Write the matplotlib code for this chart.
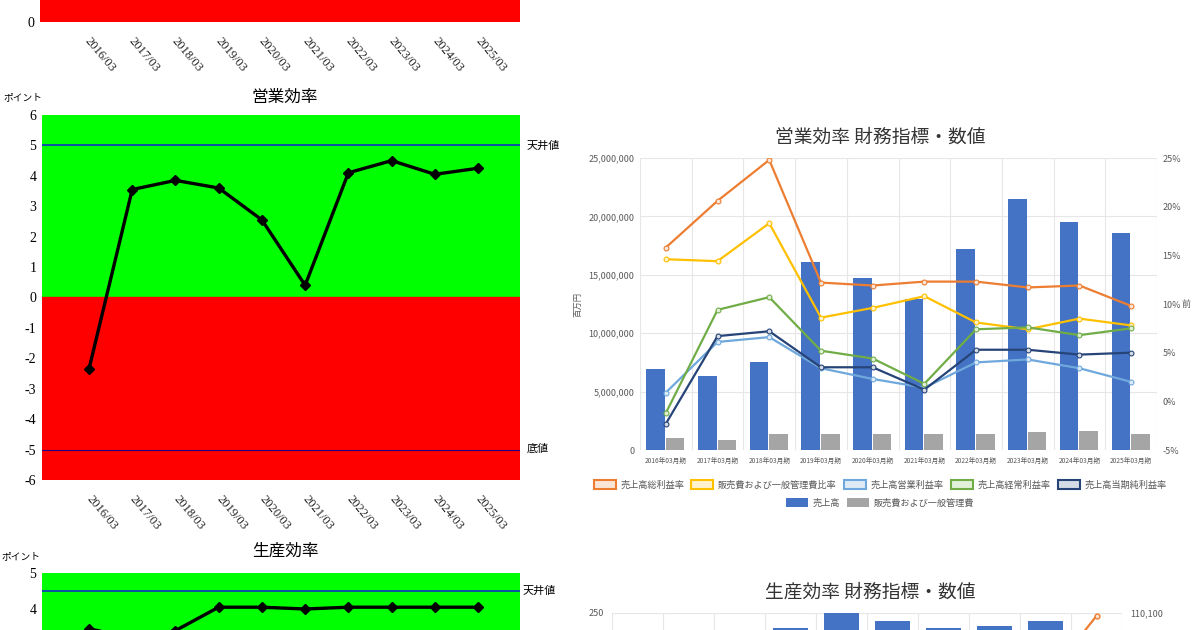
import numpy as np
import matplotlib.pyplot as plt
from matplotlib.patches import Patch
from matplotlib.ticker import FuncFormatter

plt.rcParams['font.family'] = ['Noto Sans CJK JP', 'DejaVu Sans']

# data
years = ['2016/03', '2017/03', '2018/03', '2019/03', '2020/03',
         '2021/03', '2022/03', '2023/03', '2024/03', '2025/03']
periods = ['2016年03月期', '2017年03月期', '2018年03月期', '2019年03月期', '2020年03月期',
           '2021年03月期', '2022年03月期', '2023年03月期', '2024年03月期', '2025年03月期']
eigyo_pt = [-2.35, 3.55, 3.85, 3.6, 2.55, 0.4, 4.1, 4.5, 4.05, 4.25]
seisan_pt = [3.45, 3.2, 3.4, 4.05, 4.05, 4.0, 4.05, 4.05, 4.05, 4.05]

uriage = [6.9e6, 6.3e6, 7.5e6, 16.1e6, 14.7e6, 12.9e6, 17.2e6, 21.5e6, 19.5e6, 18.6e6]
hankan = [1.0e6, 0.85e6, 1.35e6, 1.35e6, 1.4e6, 1.35e6, 1.4e6, 1.55e6, 1.65e6, 1.4e6]
gross_rate = [15.8, 20.6, 24.8, 12.2, 11.9, 12.3, 12.3, 11.7, 11.9, 9.8]
sga_rate = [14.6, 14.4, 18.3, 8.6, 9.6, 10.8, 8.1, 7.4, 8.5, 7.8]
op_rate = [0.9, 6.1, 6.6, 3.4, 2.3, 1.4, 4.0, 4.3, 3.4, 2.0]
ord_rate = [-1.2, 9.4, 10.7, 5.2, 4.4, 1.8, 7.4, 7.6, 6.8, 7.5]
net_rate = [-2.3, 6.7, 7.2, 3.5, 3.5, 1.2, 5.3, 5.3, 4.8, 5.0]
rate_names = ['売上高総利益率', '販売費および一般管理費比率', '売上高営業利益率',
              '売上高経常利益率', '売上高当期純利益率']
bar_names = ['売上高', '販売費および一般管理費']

prod_bar = [180, 190, 210, 237, 252, 243, 237, 239, 243, 225]
prod_line = [109500, 109520, 109540, 109560, 109580, 109600, 109620, 109640, 109985, 110095]

W, H = 1200, 630
fig = plt.figure(figsize=(12, 6.3), dpi=100)


def px(x0, y0, x1, y1):
    return [x0 / W, 1 - y1 / H, (x1 - x0) / W, (y1 - y0) / H]


serif = ['Liberation Serif', 'Noto Sans CJK JP']
x = np.arange(len(years))
GREEN, RED = '#00FF00', '#FF0000'


def point_axes(rect):
    ax = fig.add_axes(rect)
    ax.set_xlim(-1.087, 9.97)
    for s in ax.spines.values():
        s.set_visible(False)
    ax.tick_params(length=0, pad=4)
    return ax


def date_ticks(ax):
    ax.set_xticks(x)
    ax.set_xticklabels(years, rotation=-50, ha='left', va='center',
                       rotation_mode='anchor', family=serif, fontsize=9, color='#222222')
    ax.tick_params(axis='x', pad=12)


# top partial chart
ax0 = point_axes(px(40, -300, 520, 22))
ax0.set_ylim(0, 10)
ax0.axhspan(0, 10, color=RED)
ax0.set_yticks([0])
ax0.set_yticklabels(['0'], family=serif, fontsize=10)
date_ticks(ax0)

# 営業効率
ax1 = point_axes(px(42, 115, 520, 480))
ax1.set_ylim(-6, 6)
ax1.axhspan(0, 6, color=GREEN)
ax1.axhspan(-6, 0, color=RED)
ax1.axhline(5, color='#1030C0', lw=1.2)
ax1.axhline(-5, color='#200080', lw=0.8)
ax1.plot(x, eigyo_pt, color='black', lw=2.4, marker='D', ms=5)
ax1.set_yticks(range(-6, 7))
ax1.set_yticklabels([str(v) for v in range(-6, 7)], family=serif, fontsize=10)
date_ticks(ax1)
fig.text(285 / W, 1 - 97 / H, '営業効率', ha='center', va='center', fontsize=12)
fig.text(3 / W, 1 - 97 / H, 'ポイント', ha='left', va='center', fontsize=7)
fig.text(527 / W, 1 - 146 / H, '天井値', ha='left', va='center', fontsize=8)
fig.text(527 / W, 1 - 449 / H, '底値', ha='left', va='center', fontsize=8)

# 生産効率 (partial)
ax2 = point_axes(px(42, 573, 520, 753))
ax2.set_ylim(0, 5)
ax2.axhspan(0, 5, color=GREEN)
ax2.axhline(4.5, color='#1030C0', lw=1.2)
ax2.plot(x, seisan_pt, color='black', lw=2.4, marker='D', ms=5)
ax2.set_yticks([4, 5])
ax2.set_yticklabels(['4', '5'], family=serif, fontsize=10)
ax2.set_xticks([])
fig.text(285 / W, 1 - 551 / H, '生産効率', ha='center', va='center', fontsize=12)
fig.text(1 / W, 1 - 556 / H, 'ポイント', ha='left', va='center', fontsize=7)
fig.text(523 / W, 1 - 591 / H, '天井値', ha='left', va='center', fontsize=8)

# 営業効率 財務指標・数値
GRID = '#E6E6E6'
TXT = '#595959'
ax3 = fig.add_axes(px(640, 158, 1157, 450))
ax3.set_xlim(-0.5, 9.5)
ax3.set_ylim(0, 25e6)
for b in np.arange(-0.5, 10, 1):
    ax3.axvline(b, color=GRID, lw=0.8, zorder=0)
ax3.set_yticks(np.arange(0, 25e6 + 1, 5e6))
ax3.yaxis.set_major_formatter(FuncFormatter(lambda v, p: f'{int(v):,}'))
ax3.grid(axis='y', color=GRID, lw=0.8)
ax3.set_axisbelow(True)
ax3.bar(x - 0.2, uriage, width=0.36, color='#4472C4', zorder=2)
ax3.bar(x + 0.18, hankan, width=0.36, color='#A5A5A5', zorder=2)
ax3.set_xticks(x)
ax3.set_xticklabels(periods, fontsize=4.8, color=TXT)
ax3.tick_params(length=0, labelsize=6.5, labelcolor=TXT, pad=4)
ax3.tick_params(axis='x', labelsize=4.8, pad=5)
for s in ax3.spines.values():
    s.set_visible(False)

ax3b = ax3.twinx()
ax3b.set_ylim(-5, 25)
ax3b.set_yticks(range(-5, 26, 5))
ax3b.yaxis.set_major_formatter(FuncFormatter(lambda v, p: f'{int(v)}%'))
ax3b.tick_params(length=0, labelsize=6.5, labelcolor=TXT, pad=4)
for s in ax3b.spines.values():
    s.set_visible(False)
line_cols = ['#ED7D31', '#FFC000', '#6FA8DC', '#70AD47', '#264478']
light_cols = ['#FBE5D6', '#FFF2CC', '#DEEBF7', '#E2F0D9', '#D6DCE5']
for vals, c, lc in zip([gross_rate, sga_rate, op_rate, ord_rate, net_rate], line_cols, light_cols):
    ax3b.plot(x, vals, color=c, lw=1.6, marker='o', ms=3.5, mfc=lc, mec=c, mew=0.8)

fig.text(880 / W, 1 - 137 / H, '営業効率 財務指標・数値', ha='center', va='center',
         fontsize=13.5, color='#333333')
fig.text(578 / W, 1 - 304 / H, '百万円', rotation=90, ha='center', va='center',
         fontsize=6, color=TXT)
fig.text(1182 / W, 1 - 304 / H, '前', ha='left', va='center', fontsize=6.5, color=TXT)

h1 = [Patch(facecolor=lc, edgecolor=c, lw=1.5) for c, lc in zip(line_cols, light_cols)]
fig.legend(h1, rate_names, loc='center', bbox_to_anchor=(880 / W, 1 - 485 / H), ncol=5,
           frameon=False, fontsize=6.6, handlelength=2.4, handleheight=1.1,
           columnspacing=0.8, handletextpad=0.5, labelcolor=TXT)
h2 = [Patch(facecolor='#4472C4'), Patch(facecolor='#A5A5A5')]
fig.legend(h2, bar_names, loc='center', bbox_to_anchor=(880 / W, 1 - 503 / H), ncol=2,
           frameon=False, fontsize=6.6, handlelength=2.4, handleheight=1.1,
           columnspacing=0.8, handletextpad=0.5, labelcolor=TXT)

# 生産効率 財務指標・数値 (partial)
ax4 = fig.add_axes(px(612, 613, 1122, 905))
ax4.set_xlim(-0.5, 9.5)
ax4.set_ylim(0, 250)
for b in np.arange(-0.5, 10, 1):
    ax4.axvline(b, color=GRID, lw=0.8, zorder=0)
ax4.set_yticks([250])
ax4.grid(axis='y', color=GRID, lw=0.8)
ax4.set_axisbelow(True)
ax4.bar(x, prod_bar, width=0.68, color='#4472C4', zorder=2)
ax4.set_xticks([])
ax4.tick_params(length=0, labelsize=6.5, labelcolor=TXT, pad=6)
for s in ax4.spines.values():
    s.set_visible(False)
ax4b = ax4.twinx()
ax4b.set_ylim(109600, 110100)
ax4b.set_yticks([110100])
ax4b.yaxis.set_major_formatter(FuncFormatter(lambda v, p: f'{int(v):,}'))
ax4b.tick_params(length=0, labelsize=6.5, labelcolor=TXT, pad=6)
for s in ax4b.spines.values():
    s.set_visible(False)
ax4b.plot(x, prod_line, color='#ED7D31', lw=1.6, marker='o', ms=3.5, mfc='#FBE5D6', mec='#ED7D31')
fig.text(870 / W, 1 - 592 / H, '生産効率 財務指標・数値', ha='center', va='center',
         fontsize=13.5, color='#333333')

fig.savefig('out.png', dpi=100)
